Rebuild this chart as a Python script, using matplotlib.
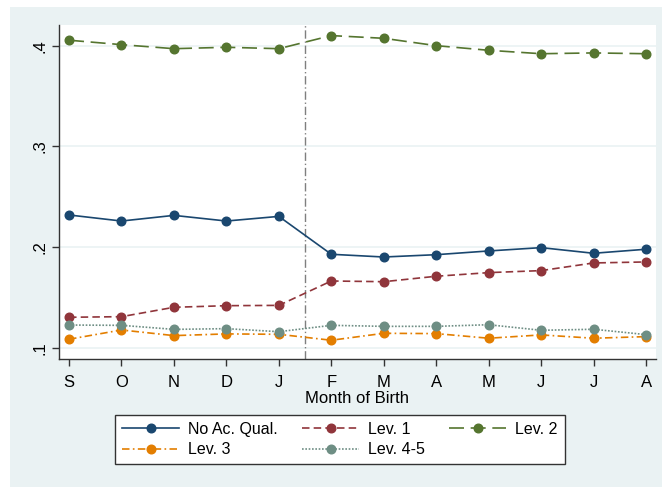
import matplotlib
matplotlib.use("Agg")
import matplotlib.pyplot as plt
from matplotlib.patches import Rectangle

plt.rcParams['font.family'] = ['Liberation Sans', 'DejaVu Sans']

months = ["S", "O", "N", "D", "J", "F", "M", "A", "M", "J", "J", "A"]
no_ac = [0.232, 0.226, 0.2316, 0.226, 0.2306, 0.193, 0.1903, 0.1926, 0.1963, 0.1996, 0.194, 0.198]
lev1 = [0.1305, 0.1311, 0.1404, 0.142, 0.1423, 0.1665, 0.1658, 0.1712, 0.1748, 0.1768, 0.1844, 0.1854]
lev2 = [0.4054, 0.401, 0.397, 0.3984, 0.397, 0.410, 0.4073, 0.400, 0.3954, 0.392, 0.3928, 0.392]
lev3 = [0.1087, 0.1179, 0.1123, 0.114, 0.1136, 0.1077, 0.1146, 0.1143, 0.1097, 0.113, 0.1097, 0.1113]
lev45 = [0.1228, 0.1225, 0.1185, 0.1192, 0.1162, 0.1225, 0.1215, 0.1215, 0.1231, 0.1176, 0.1186, 0.1133]
yticks = [0.1, 0.2, 0.3, 0.4]
ytick_labels = [".1", ".2", ".3", ".4"]
cutoff = 5.5

W, H = 662, 487
fig = plt.figure(figsize=(W / 100, H / 100), dpi=100)
fig.patch.set_facecolor("white")
bg = Rectangle((10 / W, 0), 1 - 10 / W, (H - 7) / H, transform=fig.transFigure,
               facecolor="#eaf2f3", edgecolor="none", zorder=-10)
fig.patches.append(bg)

ax = fig.add_axes([58.7 / W, (H - 359.3) / H, (656 - 58.7) / W, (359.3 - 25) / H])
ax.set_zorder(2)
ax.set_facecolor("white")

x = list(range(1, len(months) + 1))
series = [
    (no_ac, "No Ac. Qual.", "#1a476f", "-"),
    (lev1, "Lev. 1", "#90353b", (0, (4.5, 2.5))),
    (lev2, "Lev. 2", "#55752f", (0, (9, 4))),
    (lev3, "Lev. 3", "#e37e00", (0, (4.5, 2, 1, 2))),
    (lev45, "Lev. 4-5", "#6e8e84", (0, (1, 1))),
]
handles = []
for vals, lab, col, ls in series:
    ln, = ax.plot(x, vals, color=col, linestyle=ls, linewidth=1.2, marker="o",
                  markersize=6.2, markerfacecolor=col, markeredgecolor=col,
                  label=lab, zorder=3)
    handles.append(ln)

ax.axvline(cutoff, color="#7f7f7f", linestyle=(0, (6, 2, 1, 2)), linewidth=1.0, zorder=2)

ax.set_xlim(0.803, 12.19)
ax.set_ylim(0.0888, 0.4205)
ax.set_xticks(x)
ax.set_xticklabels(months, fontsize=12)
ax.set_yticks(yticks)
ax.set_yticklabels(ytick_labels, fontsize=12, rotation=90, va="center")
ax.yaxis.grid(True, color="#eaf2f3", linewidth=1.2, zorder=1)
ax.set_axisbelow(True)
for s in ["top", "right"]:
    ax.spines[s].set_visible(False)
for s in ["left", "bottom"]:
    ax.spines[s].set_color("#333333")
    ax.spines[s].set_linewidth(1.0)
ax.tick_params(axis="both", length=5, width=1.0, color="#333333", labelcolor="black")
ax.tick_params(axis="x", pad=6)
ax.tick_params(axis="y", pad=3)
ax.set_xlabel("Month of Birth", fontsize=12, labelpad=1)

order = [0, 3, 1, 4, 2]
leg = fig.legend([handles[i] for i in order], [series[i][1] for i in order],
                 loc="center", bbox_to_anchor=(339.7 / W, (H - 439.5) / H), ncol=3,
                 fontsize=11.5, frameon=True, fancybox=False, edgecolor="#333333",
                 framealpha=1.0, handlelength=3.6, handletextpad=0.55, columnspacing=1.5,
                 labelspacing=0.35, borderpad=0.45)
leg.get_frame().set_linewidth(1.0)
leg.set_zorder(5)
for h in leg.legend_handles:
    h.set_markersize(6.2)

fig.savefig("out.png", dpi=100, facecolor=fig.get_facecolor())
